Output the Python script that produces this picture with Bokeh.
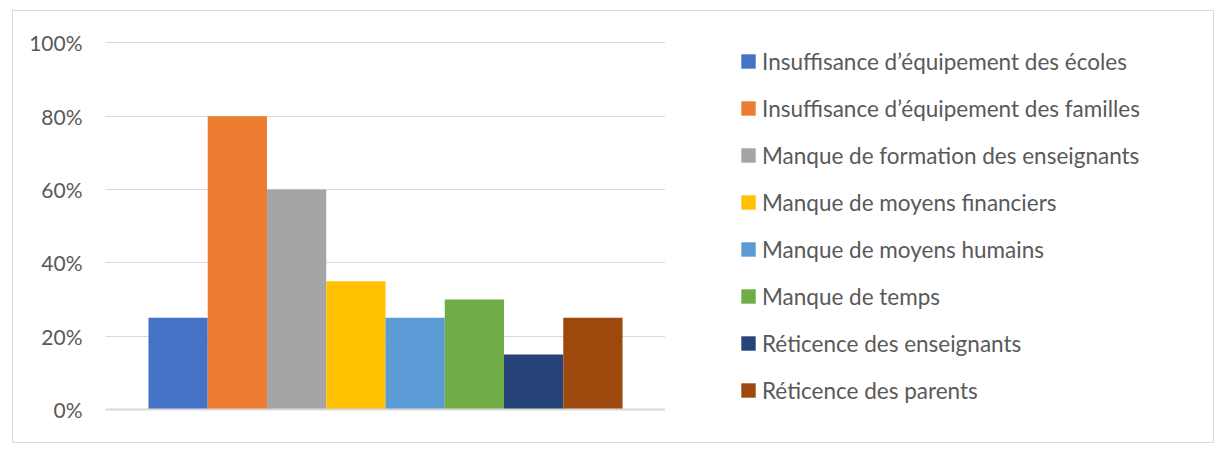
from bokeh.plotting import figure
from bokeh.layouts import row
from bokeh.models import Range1d, FixedTicker, NumeralTickFormatter, Legend, LegendItem, ColumnDataSource
from bokeh.embed import file_html
from bokeh.resources import INLINE

categories = [
    "Insuffisance d’équipement des écoles",
    "Insuffisance d’équipement des familles",
    "Manque de formation des enseignants",
    "Manque de moyens financiers",
    "Manque de moyens humains",
    "Manque de temps",
    "Réticence des enseignants",
    "Réticence des parents",
]
values = [0.25, 0.80, 0.60, 0.35, 0.25, 0.30, 0.15, 0.25]
colors = ["#4472C4", "#ED7D31", "#A5A5A5", "#FFC000", "#5B9BD5", "#70AD47", "#264478", "#9E480E"]
y_ticks = [0, 0.2, 0.4, 0.6, 0.8, 1.0]

FONT = "Lato"
TXT = "#595959"
GRID = "#d9d9d9"

n = len(categories)
pad = 0.5 + 0.725
p = figure(width=652, height=431, output_backend="svg", toolbar_location=None,
           x_range=Range1d(-pad, n - 1 + pad), y_range=Range1d(0, 1.004),
           min_border_left=92, min_border_right=0, min_border_top=30, min_border_bottom=33,
           outline_line_color=None)

for i, (v, col) in enumerate(zip(values, colors)):
    src = ColumnDataSource(dict(x=[i], top=[v]))
    p.vbar(x="x", top="top", width=1.0, source=src, fill_color=col, line_color=None)

p.xaxis.ticker = FixedTicker(ticks=[])
p.xaxis.major_tick_line_color = None
p.xaxis.minor_tick_line_color = None
p.xaxis.major_tick_out = 0
p.xaxis.minor_tick_out = 0
p.xaxis.axis_line_color = GRID
p.xaxis.axis_line_width = 2
p.xgrid.visible = False
p.yaxis.ticker = FixedTicker(ticks=y_ticks)
p.ygrid.ticker = FixedTicker(ticks=y_ticks)
p.yaxis.formatter = NumeralTickFormatter(format="0%")
p.yaxis.axis_line_color = None
p.yaxis.major_tick_line_color = None
p.yaxis.minor_tick_line_color = None
p.yaxis.major_tick_out = 0
p.yaxis.major_label_standoff = 23
p.yaxis.major_label_text_font = FONT
p.yaxis.major_label_text_font_size = "21px"
p.yaxis.major_label_text_color = TXT
p.ygrid.grid_line_color = GRID
p.ygrid.grid_line_width = 1

# legend panel
lg = figure(width=548, height=431, output_backend="svg", toolbar_location=None,
            x_range=Range1d(0, 1), y_range=Range1d(0, 1),
            min_border=0, outline_line_color=None)
lg.axis.visible = False
lg.grid.visible = False
items = []
for c, col in zip(categories, colors):
    src = ColumnDataSource(dict(x=[-10], top=[0]))
    r = lg.vbar(x="x", top="top", width=1.0, source=src, fill_color=col, line_color=None)
    items.append(LegendItem(label=c, renderers=[r]))

legend = Legend(items=items, location=(74, 5), orientation="vertical",
                glyph_width=18, glyph_height=18, label_height=28, spacing=19,
                label_standoff=5, padding=0, margin=0,
                border_line_color=None, background_fill_alpha=0,
                label_text_font=FONT, label_text_font_size="22.5px", label_text_color=TXT,
                click_policy="none")
lg.add_layout(legend, "center")

layout = row(p, lg, margin=(10, 0, 0, 12), styles={"border": "1px solid #d9d9d9"})

open("out.html", "w").write(file_html(layout, INLINE))
